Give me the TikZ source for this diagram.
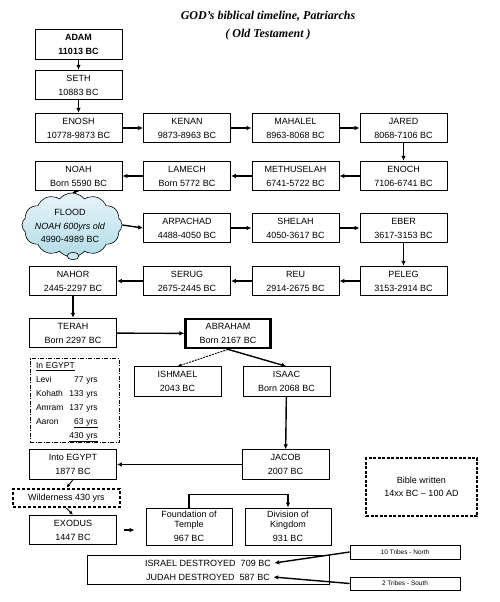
\documentclass[tikz,border=0pt]{standalone}
\usepackage{fontspec}
\setmainfont{Liberation Sans}
\newfontfamily\titlefont{Liberation Serif}
\definecolor{flood_blue}{RGB}{178, 220, 232}
\usetikzlibrary{arrows.meta, shapes.symbols, shapes.geometric}

\begin{document}
\begin{tikzpicture}[
    x=1pt, y=-1pt,
    every node/.style={font=\fontsize{9}{14}\selectfont},
    box/.style={draw, line width=0.8pt, minimum width=87pt, minimum height=29.5pt,
                inner sep=0pt, align=center},
    link/.style={-{Latex[length=5pt, width=4.5pt]}, line width=1.4pt},
    slim link/.style={-{Latex[length=4pt, width=3.5pt]}, line width=0.9pt},
    tribe/.style={draw, line width=0.8pt, minimum width=110pt, minimum height=14pt,
                  inner sep=0pt, font=\fontsize{6.5}{8}\selectfont},
  ]
  \useasboundingbox (0,0) rectangle (500,602);

  \node[font=\titlefont\bfseries\itshape\fontsize{12}{14}\selectfont] (title) at (268,16) {GOD’s biblical timeline, Patriarchs};
  \node[font=\titlefont\bfseries\itshape\fontsize{12}{14}\selectfont] (subtitle) at (268,35) {( Old Testament )};

  \node[box, font=\bfseries\fontsize{9}{14}\selectfont] (adam) at (78.5,44.5) {ADAM\\11013 BC};
  \node[box]             (seth)       at (78.5,85)    {SETH\\10883 BC};
  \node[box]             (enosh)      at (78.5,128)   {ENOSH\\10778-9873 BC};
  \node[box]             (kenan)      at (187,128)    {KENAN\\9873-8963 BC};
  \node[box]             (mahalel)    at (295.5,128)  {MAHALEL\\8963-8068 BC};
  \node[box]             (jared)      at (403.5,128)  {JARED\\8068-7106 BC};
  \node[box]             (enoch)      at (403.5,176)  {ENOCH\\7106-6741 BC};
  \node[box]             (methuselah) at (295.5,176)  {METHUSELAH\\6741-5722 BC};
  \node[box]             (lamech)     at (187,176)    {LAMECH\\Born 5772 BC};
  \node[box]             (noah)       at (78.5,176)   {NOAH\\Born 5590 BC};

  \node[cloud, cloud puffs=12, cloud puff arc=100, cloud ignores aspect, draw, line width=0.6pt,
        top color=flood_blue!30, bottom color=flood_blue,
        minimum width=100pt, minimum height=64pt, inner sep=0pt] (flood) at (72,225) {};
  \node[align=center, font=\fontsize{9}{13.5}\selectfont] (floodtext) at (70,226) {FLOOD\\\textit{NOAH 600yrs old}\\4990-4989 BC};
  \node[ellipse, draw, line width=0.6pt, fill=flood_blue!60,
        minimum width=12pt, minimum height=7pt, inner sep=0pt] (bubble) at (73,256) {};

  \node[box]             (arpachad)   at (187,228)    {ARPACHAD\\4488-4050 BC};
  \node[box]             (shelah)     at (295.5,228)  {SHELAH\\4050-3617 BC};
  \node[box]             (eber)       at (403.5,228)  {EBER\\3617-3153 BC};
  \node[box]             (peleg)      at (403.5,281)  {PELEG\\3153-2914 BC};
  \node[box]             (reu)        at (295.5,281)  {REU\\2914-2675 BC};
  \node[box]             (serug)      at (187,281)    {SERUG\\2675-2445 BC};
  \node[box]             (nahor)      at (73,281)     {NAHOR\\2445-2297 BC};
  \node[box]             (terah)      at (73,333)     {TERAH\\Born 2297 BC};
  \node[box, line width=2.2pt, minimum width=85pt] (abraham) at (228,333.5) {ABRAHAM\\Born 2167 BC};
  \node[box]             (ishmael)    at (177.5,381.5) {ISHMAEL\\2043 BC};
  \node[box]             (isaac)      at (286.5,381.5) {ISAAC\\Born 2068 BC};

  \node[draw, line width=0.8pt, dash pattern=on 4pt off 1.5pt on 1pt off 1.5pt,
        minimum width=89pt, minimum height=84pt, text width=77pt, inner xsep=6pt,
        inner ysep=0pt, align=left, font=\fontsize{8.5}{14}\selectfont] (egypt) at (74.5,400.5)
    {\begin{tabular}{@{}l@{\hspace{6pt}}r@{}}
       \multicolumn{2}{@{}l@{}}{\underline{In EGYPT}}\\
       Levi   & 77 yrs\\
       Kohath & 133 yrs\\
       Amram  & 137 yrs\\
       Aaron  & \underline{63 yrs}\\
              & \underline{430 yrs}
     \end{tabular}};

  \node[box]             (intoegypt)  at (73,464.5)   {Into EGYPT\\1877 BC};
  \node[box]             (jacob)      at (285.5,464.5) {JACOB\\2007 BC};
  \node[draw, line width=2.4pt, dash pattern=on 3pt off 2pt, minimum width=107pt,
        minimum height=18pt, inner sep=0pt] (wild) at (66.5,498) {Wilderness 430 yrs};
  \node[box]             (exodus)     at (73,530)     {EXODUS\\1447 BC};
  \node[box, minimum width=86pt, minimum height=37pt, font=\fontsize{9}{10}\selectfont]
                         (temple)     at (189,526.5)  {Foundation of\\Temple\\[4pt]967 BC};
  \node[box, minimum width=86pt, minimum height=37pt, font=\fontsize{9}{10}\selectfont]
                         (division)   at (288,526.5)  {Division of\\Kingdom\\[4pt]931 BC};
  \node[box, line width=1.5pt, dash pattern=on 3pt off 1.5pt, minimum width=111pt,
        minimum height=58pt, font=\fontsize{9}{13}\selectfont] (bible) at (421.5,487) {Bible written\\14xx BC – 100 AD};

  \node[box, minimum width=242pt, minimum height=29pt] (fall) at (208,569.5) {};
  \node                  (israel)     at (208,563)    {ISRAEL DESTROYED\ \ 709 BC};
  \node                  (judah)      at (208,577)    {JUDAH DESTROYED\ \ 587 BC};
  \node[tribe]           (north)      at (405,552)    {10 Tribes - North};
  \node[tribe, minimum height=13pt] (south) at (405,583.5) {2 Tribes - South};

  \draw[link] (adam)       -- (seth);
  \draw[link] (seth)       -- (enosh);
  \draw[link] (enosh)      -- (kenan);
  \draw[link] (kenan)      -- (mahalel);
  \draw[link] (mahalel)    -- (jared);
  \draw[link] (jared)      -- (enoch);
  \draw[link] (enoch)      -- (methuselah);
  \draw[link] (methuselah) -- (lamech);
  \draw[link] (lamech)     -- (noah);
  \draw[slim link] (noah.south) -- (flood.north);
  \draw[link] (flood.east) -- (arpachad.west);
  \draw[link] (arpachad)   -- (shelah);
  \draw[link] (shelah)     -- (eber);
  \draw[link] (eber)       -- (peleg);
  \draw[link] (peleg)      -- (reu);
  \draw[link] (reu)        -- (serug);
  \draw[link] (serug)      -- (nahor);
  \draw[link] (nahor)      -- (terah);
  \draw[link] (terah)      -- (abraham);
  \draw[slim link, dash pattern=on 2pt off 1pt] (abraham.south) -- (ishmael.north);
  \draw[link] (abraham.south) -- (isaac.north);
  \draw[link] (isaac)      -- (jacob);
  \draw[link] (jacob)      -- (intoegypt);
  \draw[slim link] (intoegypt.south) -- (wild.north);
  \draw[slim link] (wild.south) -- (exodus.north);
  \draw[link, shorten <=7pt, shorten >=11pt] (exodus.east) -- (exodus.east -| temple.west);
  \draw[link] (temple.north) -- ++(0,-13) -| (division.north);
  \draw[link] (north.west) -- (israel.east);
  \draw[link] (south.west) -- (judah.east);
\end{tikzpicture}
\end{document}
